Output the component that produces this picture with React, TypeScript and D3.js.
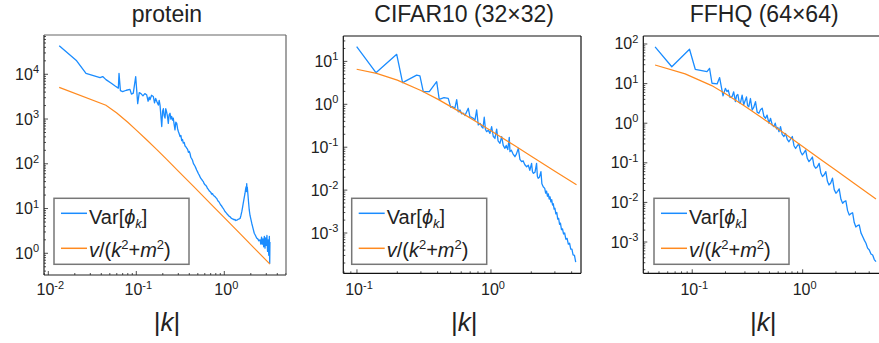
import { useEffect, useRef } from "react";
import * as d3 from "d3";

const WIDTH = 879;
const HEIGHT = 343;
const FONT = "'Liberation Sans', Arial, sans-serif";
const BLUE = "#1a8cff";
const ORANGE = "#ff8a1f";
const TEXT_COLOR = "#222";
const TICK_FONT_SIZE = 16;
const SUP_FONT_SIZE = 11;
const LEGEND_W = 135;
const LEGEND_H = 66;

const TITLES = ["protein", "CIFAR10 (32×32)", "FFHQ (64×64)"];

// |k|, Var[phi_k]
const PROTEIN_VAR: [number, number][] = [
  [0.0133, 43400], [0.021, 20000], [0.0268, 10500], [0.0387, 8400], [0.0415, 8900],
  [0.0452, 7600], [0.052, 6300], [0.058, 5400], [0.0625, 4900], [0.0636, 10500],
  [0.066, 4300], [0.07, 4100], [0.077, 4400], [0.0847, 4600], [0.088, 3600],
  [0.0924, 3800], [0.0984, 8900], [0.1037, 2200], [0.108, 3900], [0.113, 3700],
  [0.119, 3300], [0.125, 3700], [0.131, 3500], [0.136, 2500], [0.14, 3100],
  [0.143, 2700], [0.149, 3400], [0.156, 3200], [0.161, 2300], [0.166, 2900],
  [0.172, 2400], [0.178, 2050], [0.182, 2600], [0.186, 2050], [0.1945, 680],
  [0.199, 1500], [0.203, 1700], [0.207, 1200], [0.212, 1050], [0.216, 1700],
  [0.221, 1450], [0.226, 1150], [0.231, 800], [0.236, 1250], [0.2415, 1350],
  [0.247, 1000], [0.252, 1150], [0.258, 950], [0.263, 1050], [0.268, 800],
  [0.275, 570], [0.281, 850], [0.288, 800], [0.295, 600], [0.301, 520],
  [0.307, 470], [0.314, 405], [0.321, 430], [0.328, 330], [0.335, 350],
  [0.342, 290], [0.35, 300], [0.358, 250], [0.366, 240], [0.374, 225],
  [0.383, 210], [0.391, 180], [0.399, 190], [0.407, 172], [0.416, 140],
  [0.426, 130], [0.435, 120], [0.445, 102], [0.455, 95], [0.465, 88],
  [0.475, 80], [0.485, 73], [0.497, 66], [0.508, 60], [0.519, 56],
  [0.53, 51], [0.542, 47], [0.553, 45], [0.565, 42], [0.577, 40],
  [0.59, 36], [0.603, 34], [0.617, 33], [0.63, 31], [0.644, 28],
  [0.658, 27], [0.672, 25], [0.687, 24], [0.703, 23], [0.718, 21],
  [0.734, 21.5], [0.75, 20], [0.767, 19], [0.784, 18.5], [0.801, 17.5],
  [0.818, 17], [0.836, 15.5], [0.854, 14.5], [0.872, 14], [0.89, 13],
  [0.91, 12], [0.93, 11.5], [0.952, 10.6], [0.975, 10], [0.996, 9.3],
  [1.018, 8.6], [1.04, 8.2], [1.064, 7.8], [1.088, 7.3], [1.112, 7.1],
  [1.136, 6.7], [1.16, 6.6], [1.185, 6.2], [1.21, 6.0], [1.235, 5.9],
  [1.26, 5.8], [1.29, 5.6], [1.32, 5.7], [1.35, 5.4], [1.38, 5.5],
  [1.41, 5.6], [1.44, 5.8], [1.48, 5.9], [1.51, 6.0], [1.545, 7.0],
  [1.58, 8.5], [1.61, 10.5], [1.64, 13], [1.68, 17], [1.72, 22],
  [1.745, 27], [1.77, 31], [1.785, 24], [1.797, 36], [1.81, 27],
  [1.825, 30], [1.85, 22], [1.885, 14], [1.92, 9.3], [1.96, 7],
  [2.05, 4.7], [2.12, 3.6], [2.19, 2.8], [2.26, 2.5], [2.33, 2.2],
  [2.4, 2.1], [2.47, 1.9], [2.55, 2.0], [2.6, 1.6], [2.65, 2.3],
  [2.7, 1.6], [2.75, 2.1], [2.8, 1.4], [2.85, 2.4], [2.9, 1.3],
  [2.95, 2.2], [3.0, 1.5], [3.05, 2.5], [3.1, 1.1], [3.15, 2.0],
  [3.2, 0.9], [3.25, 2.4], [3.28, 0.6], [3.3, 1.8],
];

// |k|, v/(k^2+m^2)
const PROTEIN_FIT: [number, number][] = [
  [0.0133, 5100], [0.0452, 2030], [0.06, 1370], [0.08, 848], [0.1, 567],
  [0.13, 350], [0.17, 210], [0.22, 127], [0.3, 68.8], [0.45, 30.8],
  [0.7, 12.7], [1.0, 6.25], [1.5, 2.78], [2.2, 1.29], [3.3, 0.575],
];

const CIFAR_VAR: [number, number][] = [
  [0.0995, 22], [0.1386, 5.45], [0.198, 14.6], [0.219, 3.19], [0.279, 4.8],
  [0.295, 4.6], [0.3126, 1.97], [0.3466, 1.97], [0.3935, 3.37], [0.411, 1.31],
  [0.446, 1.43], [0.48, 1.38], [0.501, 0.85], [0.518, 0.88], [0.538, 0.81],
  [0.555, 1.28], [0.57, 0.67], [0.587, 0.74], [0.604, 0.6], [0.621, 0.62],
  [0.64, 0.55], [0.677, 0.81], [0.697, 0.51], [0.715, 0.5], [0.738, 0.47],
  [0.76, 0.43], [0.782, 0.74], [0.804, 0.33], [0.83, 0.36], [0.853, 0.3],
  [0.872, 0.28], [0.891, 0.5], [0.91, 0.26], [0.929, 0.23], [0.955, 0.25],
  [0.983, 0.21], [1.012, 0.3], [1.04, 0.18], [1.071, 0.16], [1.103, 0.265],
  [1.13, 0.14], [1.167, 0.123], [1.202, 0.176], [1.235, 0.11], [1.271, 0.094],
  [1.3, 0.11], [1.335, 0.088], [1.37, 0.17], [1.386, 0.079], [1.42, 0.085],
  [1.46, 0.07], [1.51, 0.06], [1.55, 0.07], [1.6, 0.094], [1.645, 0.052],
  [1.694, 0.046], [1.74, 0.048], [1.79, 0.039], [1.847, 0.035], [1.9, 0.038],
  [1.95, 0.029], [2.01, 0.042], [2.04, 0.027], [2.07, 0.0246], [2.13, 0.026],
  [2.19, 0.042], [2.22, 0.021], [2.25, 0.0188], [2.3, 0.02], [2.36, 0.027],
  [2.4, 0.014], [2.455, 0.012], [2.52, 0.011], [2.56, 0.0085], [2.6, 0.0095],
  [2.64, 0.0072], [2.68, 0.0082], [2.72, 0.0062], [2.76, 0.007], [2.8, 0.0053],
  [2.84, 0.006], [2.88, 0.0045], [2.92, 0.0048], [2.96, 0.0036], [3.0, 0.0038],
  [3.05, 0.0028], [3.1, 0.003], [3.15, 0.0021], [3.2, 0.0022], [3.25, 0.0016],
  [3.3, 0.0017], [3.36, 0.0012], [3.42, 0.00125], [3.48, 0.00095], [3.55, 0.001],
  [3.62, 0.00072], [3.7, 0.00075], [3.78, 0.00055], [3.86, 0.00058], [3.94, 0.00042],
  [4.02, 0.00042], [4.1, 0.00031], [4.2, 0.0003], [4.29, 0.00021],
];

const CIFAR_FIT: [number, number][] = [
  [0.0995, 6.55], [0.14, 5.24], [0.2, 3.66], [0.3, 2.1], [0.4, 1.32],
  [0.6, 0.64], [0.8, 0.373], [1.0, 0.242], [1.5, 0.109], [2.0, 0.0616],
  [3.0, 0.0276], [4.35, 0.0133],
];

const FFHQ_VAR: [number, number][] = [
  [0.0461, 85], [0.0653, 26.7], [0.0945, 73.5], [0.1065, 23], [0.136, 20],
  [0.1435, 24.3], [0.151, 10.2], [0.168, 9.8], [0.177, 14.2], [0.19, 4.9],
  [0.1995, 7.6], [0.206, 6.3], [0.212, 6.8], [0.22, 4.5], [0.2296, 4.7],
  [0.2373, 6.2], [0.246, 3.5], [0.252, 5.0], [0.259, 5.3], [0.266, 3.4],
  [0.273, 3.2], [0.283, 5.1], [0.2925, 2.9], [0.3, 3.6], [0.31, 4.6],
  [0.317, 2.8], [0.325, 2.6], [0.3365, 4.2], [0.349, 2.15], [0.36, 2.5],
  [0.374, 3.5], [0.387, 1.9], [0.401, 1.78], [0.415, 2.2], [0.43, 2.4],
  [0.445, 1.5], [0.461, 1.33], [0.476, 1.6], [0.494, 1.0], [0.512, 1.33],
  [0.53, 0.9], [0.548, 0.82], [0.564, 1.0], [0.58, 0.72], [0.595, 0.78],
  [0.61, 0.61], [0.63, 0.82], [0.652, 0.52], [0.676, 0.46], [0.7, 0.55],
  [0.725, 0.39], [0.751, 0.34], [0.778, 0.4], [0.806, 0.46], [0.834, 0.27],
  [0.863, 0.23], [0.894, 0.27], [0.925, 0.3], [0.958, 0.19], [0.993, 0.158],
  [1.028, 0.18], [1.064, 0.21], [1.1, 0.13], [1.14, 0.107], [1.18, 0.12],
  [1.225, 0.14], [1.265, 0.085], [1.31, 0.073], [1.36, 0.08], [1.41, 0.097],
  [1.46, 0.055], [1.51, 0.045], [1.565, 0.05], [1.62, 0.06], [1.675, 0.034],
  [1.73, 0.0275], [1.795, 0.031], [1.86, 0.041], [1.93, 0.021], [2.0, 0.017],
  [2.07, 0.019], [2.14, 0.022], [2.22, 0.012], [2.3, 0.0095], [2.38, 0.0105],
  [2.46, 0.011], [2.55, 0.0062], [2.64, 0.0048], [2.73, 0.0052], [2.83, 0.0055],
  [2.93, 0.0031], [3.03, 0.0024], [3.14, 0.0026], [3.25, 0.0027], [3.37, 0.0017],
  [3.49, 0.00137], [3.62, 0.0011], [3.74, 0.00093], [3.87, 0.0007], [4.01, 0.00063],
  [4.15, 0.0005], [4.3, 0.00047], [4.45, 0.00036], [4.61, 0.00032],
];

const FFHQ_FIT: [number, number][] = [
  [0.0461, 29.5], [0.0863, 17.6], [0.15, 8.9], [0.2, 5.56], [0.3, 2.69],
  [0.5, 1.01], [0.7, 0.523], [1.0, 0.258], [1.5, 0.115], [2.0, 0.0649],
  [3.0, 0.0289], [4.61, 0.0122],
];

const PANELS = [
  {
    title: TITLES[0],
    varData: PROTEIN_VAR,
    fitData: PROTEIN_FIT,
    box: { left: 44, right: 286, top: 35, bottom: 275 },
    xExp: [-2.049, 0.701],
    yExp: [-0.485, 4.878],
    frame: ["#222", "#666"],
    legend: [54, 198.3],
  },
  {
    title: TITLES[1],
    varData: CIFAR_VAR,
    fitData: CIFAR_FIT,
    box: { left: 343.3, right: 581, top: 36, bottom: 273.3 },
    xExp: [-1.102, 0.672],
    yExp: [-3.939, 1.592],
    frame: ["#111", "#111"],
    legend: [351.7, 198.3],
  },
  {
    title: TITLES[2],
    varData: FFHQ_VAR,
    fitData: FFHQ_FIT,
    box: { left: 643.3, right: 881, top: 36, bottom: 273.3 },
    xExp: [-1.443, 0.709],
    yExp: [-3.79, 2.202],
    frame: ["#111", "#111"],
    legend: [654, 198.3],
  },
];

function powerLabel(
  g: d3.Selection<SVGGElement, unknown, null, undefined>,
  x: number,
  y: number,
  exp: number,
  anchor: string
) {
  const t = g
    .append("text")
    .attr("x", x)
    .attr("y", y)
    .attr("text-anchor", anchor)
    .attr("font-size", TICK_FONT_SIZE)
    .attr("fill", TEXT_COLOR);
  t.append("tspan").text("10");
  t.append("tspan")
    .attr("dy", -6.5)
    .attr("font-size", SUP_FONT_SIZE)
    .text(String(exp));
}

export default function App() {
  const svgRef = useRef<SVGSVGElement>(null);

  useEffect(() => {
    if (!svgRef.current) return;
    const svg = d3.select(svgRef.current);
    svg.selectAll("*").remove();
    svg.attr("font-family", FONT);

    PANELS.forEach((p, i) => {
      const { left, right, top, bottom } = p.box;
      const x = d3
        .scaleLog()
        .domain([10 ** p.xExp[0], 10 ** p.xExp[1]])
        .range([left, right]);
      const y = d3
        .scaleLog()
        .domain([10 ** p.yExp[0], 10 ** p.yExp[1]])
        .range([bottom, top]);

      const g = svg.append("g");

      // title
      g.append("text")
        .attr("x", (left + Math.min(right, WIDTH + 2)) / 2 + 2)
        .attr("y", 22)
        .attr("text-anchor", "middle")
        .attr("font-size", 23)
        .attr("fill", TEXT_COLOR)
        .text(p.title);

      // clip
      const clipId = `clip-${i}`;
      g.append("clipPath")
        .attr("id", clipId)
        .append("rect")
        .attr("x", left)
        .attr("y", top)
        .attr("width", right - left)
        .attr("height", bottom - top);

      const line = d3
        .line<[number, number]>()
        .x((d) => x(d[0]))
        .y((d) => y(d[1]));

      const plot = g.append("g").attr("clip-path", `url(#${clipId})`);
      plot
        .append("path")
        .attr("d", line(p.varData))
        .attr("fill", "none")
        .attr("stroke", BLUE)
        .attr("stroke-width", 1.3)
        .attr("stroke-linejoin", "round");
      plot
        .append("path")
        .attr("d", line(p.fitData))
        .attr("fill", "none")
        .attr("stroke", ORANGE)
        .attr("stroke-width", 1.2);

      // ticks
      const xTicks = x.ticks();
      xTicks.forEach((t) => {
        const e = Math.log10(t);
        const major = Math.abs(e - Math.round(e)) < 1e-9;
        const px = x(t);
        g.append("line")
          .attr("x1", px)
          .attr("x2", px)
          .attr("y1", bottom)
          .attr("y2", bottom - (major ? 4 : 2))
          .attr("stroke", "#222")
          .attr("stroke-width", 0.8);
        if (major) powerLabel(g, px + 2, 295, Math.round(e), "middle");
      });
      const yTicks = y.ticks();
      yTicks.forEach((t) => {
        const e = Math.log10(t);
        const major = Math.abs(e - Math.round(e)) < 1e-9;
        const py = y(t);
        g.append("line")
          .attr("x1", left)
          .attr("x2", left + (major ? 4 : 2))
          .attr("y1", py)
          .attr("y2", py)
          .attr("stroke", "#222")
          .attr("stroke-width", 0.8);
        if (major) powerLabel(g, left - 5, py + 5.5, Math.round(e), "end");
      });

      // frame
      const [dark, light] = p.frame;
      g.append("line").attr("x1", left).attr("x2", left).attr("y1", top).attr("y2", bottom).attr("stroke", dark).attr("stroke-width", 1.2);
      g.append("line").attr("x1", left).attr("x2", right).attr("y1", bottom).attr("y2", bottom).attr("stroke", dark).attr("stroke-width", 1.2);
      g.append("line").attr("x1", left).attr("x2", right).attr("y1", top).attr("y2", top).attr("stroke", light).attr("stroke-width", 1.2);
      g.append("line").attr("x1", right).attr("x2", right).attr("y1", top).attr("y2", bottom).attr("stroke", light).attr("stroke-width", 1.2);

      // x label |k|
      const xl = g
        .append("text")
        .attr("x", (left + Math.min(right, WIDTH)) / 2 + 2)
        .attr("y", 331)
        .attr("text-anchor", "middle")
        .attr("font-size", 26)
        .attr("fill", TEXT_COLOR);
      xl.append("tspan").text("|");
      xl.append("tspan").attr("font-style", "italic").text("k");
      xl.append("tspan").text("|");

      // legend
      const [lx, ly] = p.legend;
      const lg = g.append("g").attr("transform", `translate(${lx},${ly})`);
      lg.append("rect")
        .attr("width", LEGEND_W)
        .attr("height", LEGEND_H)
        .attr("fill", "white")
        .attr("stroke", "#777")
        .attr("stroke-width", 1.5);
      lg.append("line")
        .attr("x1", 7)
        .attr("x2", 33)
        .attr("y1", 15)
        .attr("y2", 15)
        .attr("stroke", BLUE)
        .attr("stroke-width", 1.5);
      lg.append("line")
        .attr("x1", 7)
        .attr("x2", 33)
        .attr("y1", 50)
        .attr("y2", 50)
        .attr("stroke", ORANGE)
        .attr("stroke-width", 1.5);

      const t1 = lg
        .append("text")
        .attr("x", 35)
        .attr("y", 26)
        .attr("font-size", 20)
        .attr("fill", TEXT_COLOR);
      t1.append("tspan").text("Var[");
      t1.append("tspan").attr("font-style", "italic").text("ϕ");
      t1.append("tspan")
        .attr("font-style", "italic")
        .attr("font-size", 13)
        .attr("dy", 4)
        .text("k");
      t1.append("tspan").attr("dy", -4).text("]");

      const t2 = lg
        .append("text")
        .attr("x", 35)
        .attr("y", 59)
        .attr("font-size", 20)
        .attr("fill", TEXT_COLOR);
      t2.append("tspan").attr("font-style", "italic").text("v");
      t2.append("tspan").text("/(");
      t2.append("tspan").attr("font-style", "italic").text("k");
      t2.append("tspan").attr("font-size", 13).attr("dy", -8).text("2");
      t2.append("tspan").attr("dy", 8).text("+");
      t2.append("tspan").attr("font-style", "italic").text("m");
      t2.append("tspan").attr("font-size", 13).attr("dy", -8).text("2");
      t2.append("tspan").attr("dy", 8).text(")");
    });
  }, []);

  return (
    <svg
      ref={svgRef}
      width={WIDTH}
      height={HEIGHT}
      style={{ position: "absolute", left: 0, top: 0, background: "white" }}
    />
  );
}
